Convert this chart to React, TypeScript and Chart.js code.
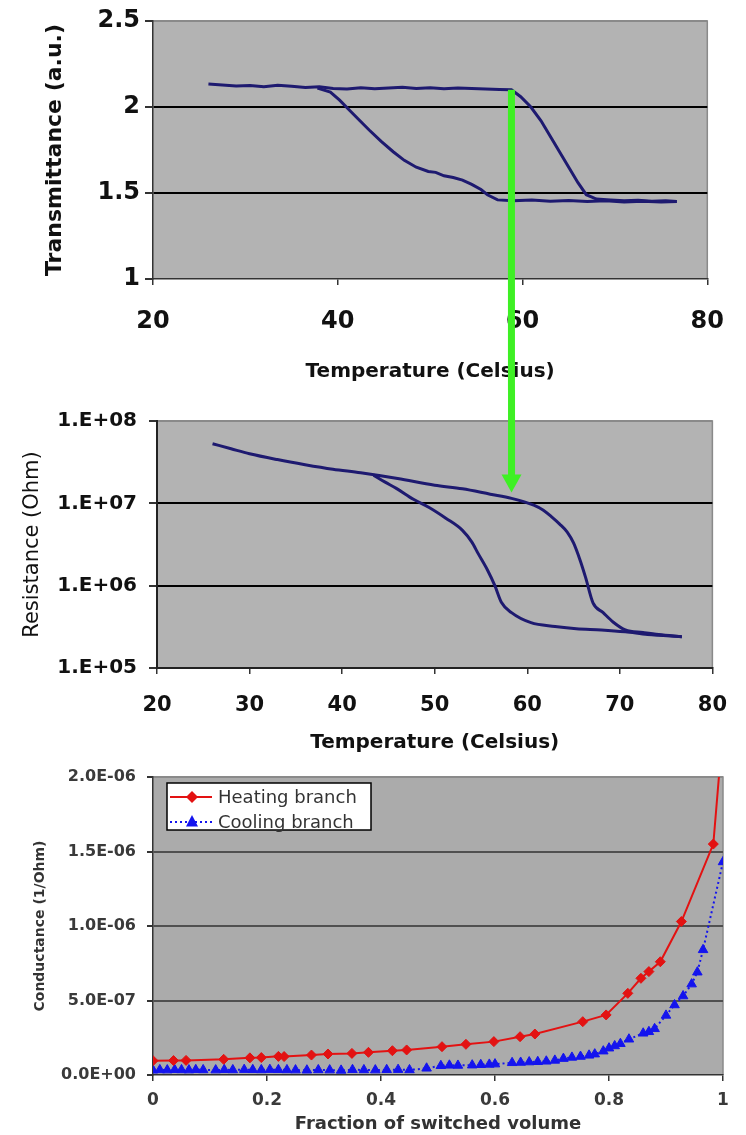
import React, { useEffect, useRef } from "react";
import { Chart, registerables } from "chart.js";

Chart.register(...registerables);
Chart.defaults.font.family = "'DejaVu Sans', sans-serif";

// ---------- Chart 1: Transmittance vs temperature ----------
const T1_HEAT = [26, 27.5, 29, 30.5, 32, 33.5, 35, 36.5, 38, 39.5, 41, 42.5, 44, 45.5, 47, 48.5, 50, 51.5, 53, 54.5, 56, 57.5, 58.8, 59.8, 60.9, 62, 63, 64, 65, 66, 66.9, 68, 69.5, 71, 72.5, 74, 75.5, 76.7];
const TR_HEAT = [2.134, 2.128, 2.122, 2.125, 2.118, 2.126, 2.12, 2.114, 2.118, 2.108, 2.104, 2.112, 2.106, 2.11, 2.115, 2.108, 2.112, 2.106, 2.11, 2.108, 2.105, 2.102, 2.1, 2.06, 2.0, 1.92, 1.83, 1.74, 1.65, 1.56, 1.49, 1.465, 1.46, 1.455, 1.458, 1.452, 1.455, 1.45];
const T1_COOL = [37.8, 39.2, 40.2, 41.3, 42.4, 43.4, 44.7, 46, 47.2, 48.5, 49.8, 50.6, 51.5, 52.5, 53.5, 54.5, 55.5, 56.2, 57.3, 59, 61, 63, 65, 67, 69, 71, 73, 75, 76.7];
const TR_COOL = [2.11, 2.087, 2.04, 1.98, 1.92, 1.866, 1.8, 1.74, 1.69, 1.65, 1.625, 1.62, 1.6, 1.59, 1.575, 1.55, 1.52, 1.49, 1.46, 1.455, 1.46, 1.452, 1.456, 1.45, 1.455, 1.448, 1.452, 1.447, 1.45];
const T1_X_TICKS = [20, 40, 60, 80];
const T1_Y_TICKS = [1, 1.5, 2, 2.5];

// ---------- Chart 2: Resistance vs temperature ----------
const T2_HEAT = [26, 28, 30, 33, 36, 39, 42, 46, 50, 53, 56, 58.3, 60.7, 61.7, 62.6, 63.5, 64.3, 65, 65.7, 66.3, 67.1, 68.2, 69.3, 70.6, 72.5, 74.2, 76.7];
const R_HEAT = [5.3e7, 4.6e7, 4.0e7, 3.4e7, 2.95e7, 2.6e7, 2.35e7, 2.0e7, 1.66e7, 1.5e7, 1.29e7, 1.15e7, 9.5e6, 8.3e6, 6.9e6, 5.6e6, 4.5e6, 3.3e6, 2.05e6, 1.26e6, 6.2e5, 4.7e5, 3.6e5, 2.9e5, 2.7e5, 2.55e5, 2.4e5];
const T2_COOL = [43.4, 44.6, 45.9, 47.7, 49.4, 51.2, 53, 54, 54.7, 55.7, 56.5, 57.2, 58.3, 60.4, 63, 65.3, 68, 70.6, 73, 76.7];
const R_COOL = [2.2e7, 1.82e7, 1.51e7, 1.12e7, 8.9e6, 6.6e6, 4.7e6, 3.4e6, 2.45e6, 1.55e6, 1.0e6, 6.3e5, 4.7e5, 3.55e5, 3.2e5, 3.0e5, 2.9e5, 2.75e5, 2.55e5, 2.4e5];
const T2_X_TICKS = [20, 30, 40, 50, 60, 70, 80];
const R_TICKS = [1e5, 1e6, 1e7, 1e8];

// ---------- Chart 3: Conductance vs fraction of switched volume ----------
const HEAT_LABEL = "Heating branch";
const COOL_LABEL = "Cooling branch";
const F_HEAT = [0, 0.036, 0.058, 0.124, 0.17, 0.19, 0.22, 0.23, 0.278, 0.307, 0.349, 0.378, 0.42, 0.445, 0.507, 0.549, 0.598, 0.644, 0.67, 0.754, 0.795, 0.833, 0.856, 0.87, 0.89, 0.927, 0.983, 0.995];
const G_HEAT = [9.6e-8, 9.7e-8, 9.8e-8, 1.05e-7, 1.15e-7, 1.17e-7, 1.25e-7, 1.24e-7, 1.34e-7, 1.41e-7, 1.45e-7, 1.52e-7, 1.63e-7, 1.68e-7, 1.9e-7, 2.06e-7, 2.24e-7, 2.57e-7, 2.75e-7, 3.58e-7, 4.03e-7, 5.48e-7, 6.49e-7, 6.94e-7, 7.6e-7, 1.03e-6, 1.55e-6, 2.1e-6];
const F_COOL = [0, 0.012, 0.025, 0.038, 0.05, 0.063, 0.075, 0.088,
  0.11, 0.125, 0.14, 0.16, 0.175, 0.19, 0.205, 0.22, 0.235, 0.25,
  0.27, 0.29, 0.31, 0.33, 0.35, 0.37, 0.39, 0.41, 0.43, 0.45,
  0.48, 0.505, 0.52, 0.535, 0.56, 0.575, 0.59, 0.6,
  0.63, 0.645, 0.66, 0.675, 0.69, 0.705,
  0.72, 0.735, 0.75, 0.765, 0.775,
  0.79, 0.8, 0.81, 0.82, 0.835, 0.86, 0.87, 0.88,
  0.9, 0.915, 0.93, 0.945, 0.955, 0.965, 1.0];
const G_COOL = [3.2e-8, 3.4e-8, 3.3e-8, 3.5e-8, 3.4e-8, 3.3e-8, 3.5e-8, 3.4e-8,
  3.3e-8, 3.5e-8, 3.4e-8, 3.6e-8, 3.5e-8, 3.4e-8, 3.6e-8, 3.5e-8, 3.4e-8, 3.3e-8,
  3.2e-8, 3.4e-8, 3.3e-8, 3.1e-8, 3.5e-8, 3.4e-8, 3.3e-8, 3.5e-8, 3.6e-8, 3.4e-8,
  4.5e-8, 6.2e-8, 6.5e-8, 6.4e-8, 6.6e-8, 6.9e-8, 7.1e-8, 7.3e-8,
  8.2e-8, 8.4e-8, 8.7e-8, 8.9e-8, 9.2e-8, 9.8e-8,
  1.1e-7, 1.18e-7, 1.24e-7, 1.32e-7, 1.4e-7,
  1.6e-7, 1.8e-7, 1.95e-7, 2.1e-7, 2.4e-7, 2.8e-7, 2.9e-7, 3.1e-7,
  4.0e-7, 4.7e-7, 5.3e-7, 6.1e-7, 6.9e-7, 8.4e-7, 1.43e-6];
const F_TICKS = [0, 0.2, 0.4, 0.6, 0.8, 1];
const G_TICKS = [0, 5e-7, 1e-6, 1.5e-6, 2e-6];

// ---------- Green arrow anchor (data coordinates) ----------
const ARROW_T1 = 58.8;
const ARROW_TR = 2.1;
const ARROW_T2 = 58.3;
const ARROW_R = 1.35e7;

const W = 746;
const H1 = 390, H2 = 365, H3 = 380;
const TOP2 = 390, TOP3 = 755;
const LINE = "#1e1a70";
const GREEN = "#3ef024";

const pts = (xs: number[], ys: number[]) => xs.map((x, i) => ({ x, y: ys[i] }));
const fixedTicks = (vals: number[]) => (s: any) => { s.ticks = vals.map((v) => ({ value: v })); };
const gridCol = (min: number, max: number, inner: string, top: string) => (c: any) => {
  const v = c.tick ? c.tick.value : null;
  if (v === min) return "rgba(0,0,0,0)";
  if (v === max) return top;
  return inner;
};
const sci = (v: number) => {
  const [m, e] = Number(v).toExponential(1).split("e");
  const n = parseInt(e, 10);
  return m + "E" + (n < 0 ? "-" : "+") + String(Math.abs(n)).padStart(2, "0");
};

const plotBg = (fill: string, frame: string) => ({
  id: "plotBg",
  beforeDraw(chart: any) {
    const { ctx, chartArea: a } = chart;
    ctx.save();
    ctx.fillStyle = fill;
    ctx.fillRect(a.left, a.top, a.right - a.left, a.bottom - a.top);
    ctx.strokeStyle = frame;
    ctx.lineWidth = 1.5;
    ctx.beginPath();
    ctx.moveTo(a.left, a.top);
    ctx.lineTo(a.right, a.top);
    ctx.lineTo(a.right, a.bottom);
    ctx.stroke();
    ctx.restore();
  },
});

const arrowTop = {
  id: "arrowTop",
  afterDraw(chart: any) {
    const { ctx } = chart;
    const x = chart.scales.x.getPixelForValue(ARROW_T1);
    const y = chart.scales.y.getPixelForValue(ARROW_TR);
    ctx.save();
    ctx.fillStyle = GREEN;
    ctx.fillRect(x - 3.5, y, 7, chart.height - y);
    ctx.restore();
  },
};

const arrowBottom = {
  id: "arrowBottom",
  afterDraw(chart: any) {
    const { ctx } = chart;
    const x = chart.scales.x.getPixelForValue(ARROW_T2);
    const tip = chart.scales.y.getPixelForValue(ARROW_R);
    const hh = 18, hw = 10;
    ctx.save();
    ctx.fillStyle = GREEN;
    ctx.fillRect(x - 3.5, 0, 7, tip - hh + 1);
    ctx.beginPath();
    ctx.moveTo(x - hw, tip - hh);
    ctx.lineTo(x + hw, tip - hh);
    ctx.lineTo(x, tip);
    ctx.closePath();
    ctx.fill();
    ctx.restore();
  },
};

const drawMarker = (ctx: CanvasRenderingContext2D, style: string, x: number, y: number, r: number) => {
  ctx.beginPath();
  if (style === "triangle") {
    ctx.moveTo(x, y - r * 1.15);
    ctx.lineTo(x + r, y + r * 0.75);
    ctx.lineTo(x - r, y + r * 0.75);
  } else {
    ctx.moveTo(x, y - r);
    ctx.lineTo(x + r, y);
    ctx.lineTo(x, y + r);
    ctx.lineTo(x - r, y);
  }
  ctx.closePath();
  ctx.fill();
};

const boxLegend = {
  id: "boxLegend",
  afterDraw(chart: any) {
    const { ctx, chartArea: a } = chart;
    const bx = a.left + 14, by = a.top + 6, bw = 204, bh = 47;
    ctx.save();
    ctx.fillStyle = "#ffffff";
    ctx.fillRect(bx, by, bw, bh);
    ctx.strokeStyle = "#000";
    ctx.lineWidth = 1.5;
    ctx.strokeRect(bx, by, bw, bh);
    chart.data.datasets.forEach((ds: any, i: number) => {
      const cy = by + 14 + i * 25;
      ctx.strokeStyle = ds.borderColor;
      ctx.lineWidth = ds.borderWidth;
      ctx.setLineDash(ds.borderDash || []);
      ctx.beginPath();
      ctx.moveTo(bx + 3, cy);
      ctx.lineTo(bx + 45, cy);
      ctx.stroke();
      ctx.setLineDash([]);
      ctx.fillStyle = ds.pointBackgroundColor;
      drawMarker(ctx, ds.pointStyle, bx + 25, cy, 6);
      ctx.fillStyle = "#333";
      ctx.font = "18px 'DejaVu Sans'";
      ctx.textBaseline = "middle";
      ctx.textAlign = "left";
      ctx.fillText(ds.label, bx + 51, cy + 1);
    });
    ctx.restore();
  },
};

const base = {
  responsive: false,
  maintainAspectRatio: false,
  animation: false as const,
  devicePixelRatio: 1,
  events: [] as any[],
};

function cfg1(): any {
  return {
    type: "line",
    data: {
      datasets: [
        { label: "Heating", data: pts(T1_HEAT, TR_HEAT), borderColor: LINE, borderWidth: 3, pointRadius: 0 },
        { label: "Cooling", data: pts(T1_COOL, TR_COOL), borderColor: LINE, borderWidth: 3, pointRadius: 0 },
      ],
    },
    options: {
      ...base,
      layout: { padding: { top: 21, right: W - 716, bottom: 0, left: 0 } },
      plugins: { legend: { display: false }, tooltip: { enabled: false } },
      scales: {
        x: {
          type: "linear", min: 20, max: 80,
          afterBuildTicks: fixedTicks(T1_X_TICKS),
          afterFit: (s: any) => { s.height = H1 - 279; },
          grid: { drawOnChartArea: false, drawTicks: true, tickLength: 6, tickColor: "#333", lineWidth: 1.5 },
          border: { display: true, color: "#333", width: 1.5 },
          ticks: { font: { size: 24, weight: "bold" }, color: "#111", padding: 22, maxRotation: 0, autoSkip: false },
          title: { display: true, text: "Temperature (Celsius)", color: "#111", font: { size: 20, weight: "bold" }, padding: { top: 0, bottom: 6 } },
        },
        y: {
          type: "linear", min: 1, max: 2.5,
          afterBuildTicks: fixedTicks(T1_Y_TICKS),
          afterFit: (s: any) => { s.width = 153; },
          grid: { color: gridCol(1, 2.5, "#000", "#8a8a8a"), lineWidth: 2, drawTicks: true, tickLength: 8, tickColor: "#333" },
          border: { display: true, color: "#333", width: 1.5 },
          ticks: { font: { size: 24, weight: "bold" }, color: "#111", padding: 5, callback: (v: any) => String(v) },
          title: { display: true, text: "Transmittance (a.u.)", color: "#111", font: { size: 22, weight: "bold" }, padding: { top: 42, bottom: 0 } },
        },
      },
    },
    plugins: [plotBg("#b3b3b3", "#8a8a8a"), arrowTop],
  };
}

function cfg2(): any {
  return {
    type: "line",
    data: {
      datasets: [
        { label: "Heating", data: pts(T2_HEAT, R_HEAT), borderColor: LINE, borderWidth: 3, pointRadius: 0, cubicInterpolationMode: "monotone" },
        { label: "Cooling", data: pts(T2_COOL, R_COOL), borderColor: LINE, borderWidth: 3, pointRadius: 0, cubicInterpolationMode: "monotone" },
      ],
    },
    options: {
      ...base,
      layout: { padding: { top: 421 - TOP2, right: W - 721, bottom: 0, left: 0 } },
      plugins: { legend: { display: false }, tooltip: { enabled: false } },
      scales: {
        x: {
          type: "linear", min: 20, max: 80,
          afterBuildTicks: fixedTicks(T2_X_TICKS),
          afterFit: (s: any) => { s.height = H2 - (668 - TOP2); },
          grid: { drawOnChartArea: false, drawTicks: true, tickLength: 6, tickColor: "#333", lineWidth: 1.5 },
          border: { display: true, color: "#222", width: 2 },
          ticks: { font: { size: 21, weight: "bold" }, color: "#111", padding: 19, maxRotation: 0, autoSkip: false },
          title: { display: true, text: "Temperature (Celsius)", color: "#111", font: { size: 20, weight: "bold" }, padding: { top: 0, bottom: 0 } },
        },
        y: {
          type: "logarithmic", min: 1e5, max: 1e8,
          afterBuildTicks: fixedTicks(R_TICKS),
          afterFit: (s: any) => { s.width = 157; },
          grid: { color: gridCol(1e5, 1e8, "#000", "#8a8a8a"), lineWidth: 2, drawTicks: true, tickLength: 8, tickColor: "#333" },
          border: { display: true, color: "#222", width: 2 },
          ticks: {
            font: { size: 20, weight: "bold" }, color: "#111", padding: 12,
            callback: (v: any) => "1.E+" + String(Math.round(Math.log10(v))).padStart(2, "0"),
          },
          title: { display: true, text: "Resistance (Ohm)", color: "#111", font: { size: 21, weight: "normal" }, padding: { top: 20, bottom: 0 } },
        },
      },
    },
    plugins: [plotBg("#b3b3b3", "#8a8a8a"), arrowBottom],
  };
}

function cfg3(): any {
  return {
    type: "line",
    data: {
      datasets: [
        {
          label: HEAT_LABEL, data: pts(F_HEAT, G_HEAT), borderColor: "#e31212", borderWidth: 2,
          pointStyle: "rectRot", pointRadius: 5, pointBackgroundColor: "#e31212", pointBorderColor: "#e31212", pointBorderWidth: 1,
        },
        {
          label: COOL_LABEL, data: pts(F_COOL, G_COOL), borderColor: "#1414ee", borderWidth: 2, borderDash: [2, 3],
          pointStyle: "triangle", pointRadius: 5.5, pointBackgroundColor: "#1414ee", pointBorderColor: "#1414ee", pointBorderWidth: 1,
        },
      ],
    },
    options: {
      ...base,
      layout: { padding: { top: 777 - TOP3, right: W - 723, bottom: 0, left: 0 } },
      plugins: { legend: { display: false }, tooltip: { enabled: false } },
      scales: {
        x: {
          type: "linear", min: 0, max: 1,
          afterBuildTicks: fixedTicks(F_TICKS),
          afterFit: (s: any) => { s.height = H3 - (1075 - TOP3); },
          grid: { drawOnChartArea: false, drawTicks: true, tickLength: 6, tickColor: "#333", lineWidth: 1.5 },
          border: { display: true, color: "#333", width: 1.5 },
          ticks: { font: { size: 17, weight: "bold" }, color: "#3a3a3a", padding: 9, maxRotation: 0, autoSkip: false, callback: (v: any) => String(Number(Number(v).toFixed(1))) },
          title: { display: true, text: "Fraction of switched volume", color: "#333", font: { size: 18, weight: "bold" }, padding: { top: 0, bottom: 0 } },
        },
        y: {
          type: "linear", min: 0, max: 2e-6,
          afterBuildTicks: fixedTicks(G_TICKS),
          afterFit: (s: any) => { s.width = 153; },
          grid: { color: gridCol(0, 2e-6, "#505050", "#8a8a8a"), lineWidth: 2, drawTicks: true, tickLength: 6, tickColor: "#333" },
          border: { display: true, color: "#333", width: 1.5 },
          ticks: { font: { size: 16, weight: "bold" }, color: "#3a3a3a", padding: 11, callback: (v: any) => sci(v) },
          title: { display: true, text: "Conductance (1/Ohm)", color: "#333", font: { size: 14, weight: "bold" }, padding: { top: 32, bottom: 0 } },
        },
      },
    },
    plugins: [plotBg("#ababab", "#8a8a8a"), boxLegend],
  };
}

export default function App() {
  const r1 = useRef<HTMLCanvasElement>(null);
  const r2 = useRef<HTMLCanvasElement>(null);
  const r3 = useRef<HTMLCanvasElement>(null);

  useEffect(() => {
    document.body.style.margin = "0";
    const c1 = new Chart(r1.current as HTMLCanvasElement, cfg1());
    const c2 = new Chart(r2.current as HTMLCanvasElement, cfg2());
    const c3 = new Chart(r3.current as HTMLCanvasElement, cfg3());
    return () => {
      c1.destroy();
      c2.destroy();
      c3.destroy();
    };
  }, []);

  const cs = (top: number): React.CSSProperties => ({ position: "absolute", left: 0, top, display: "block" });
  return (
    <div style={{ position: "relative", width: W, height: 1135, background: "#ffffff", overflow: "hidden" }}>
      <canvas ref={r1} width={W} height={H1} style={cs(0)} />
      <canvas ref={r2} width={W} height={H2} style={cs(TOP2)} />
      <canvas ref={r3} width={W} height={H3} style={cs(TOP3)} />
    </div>
  );
}
